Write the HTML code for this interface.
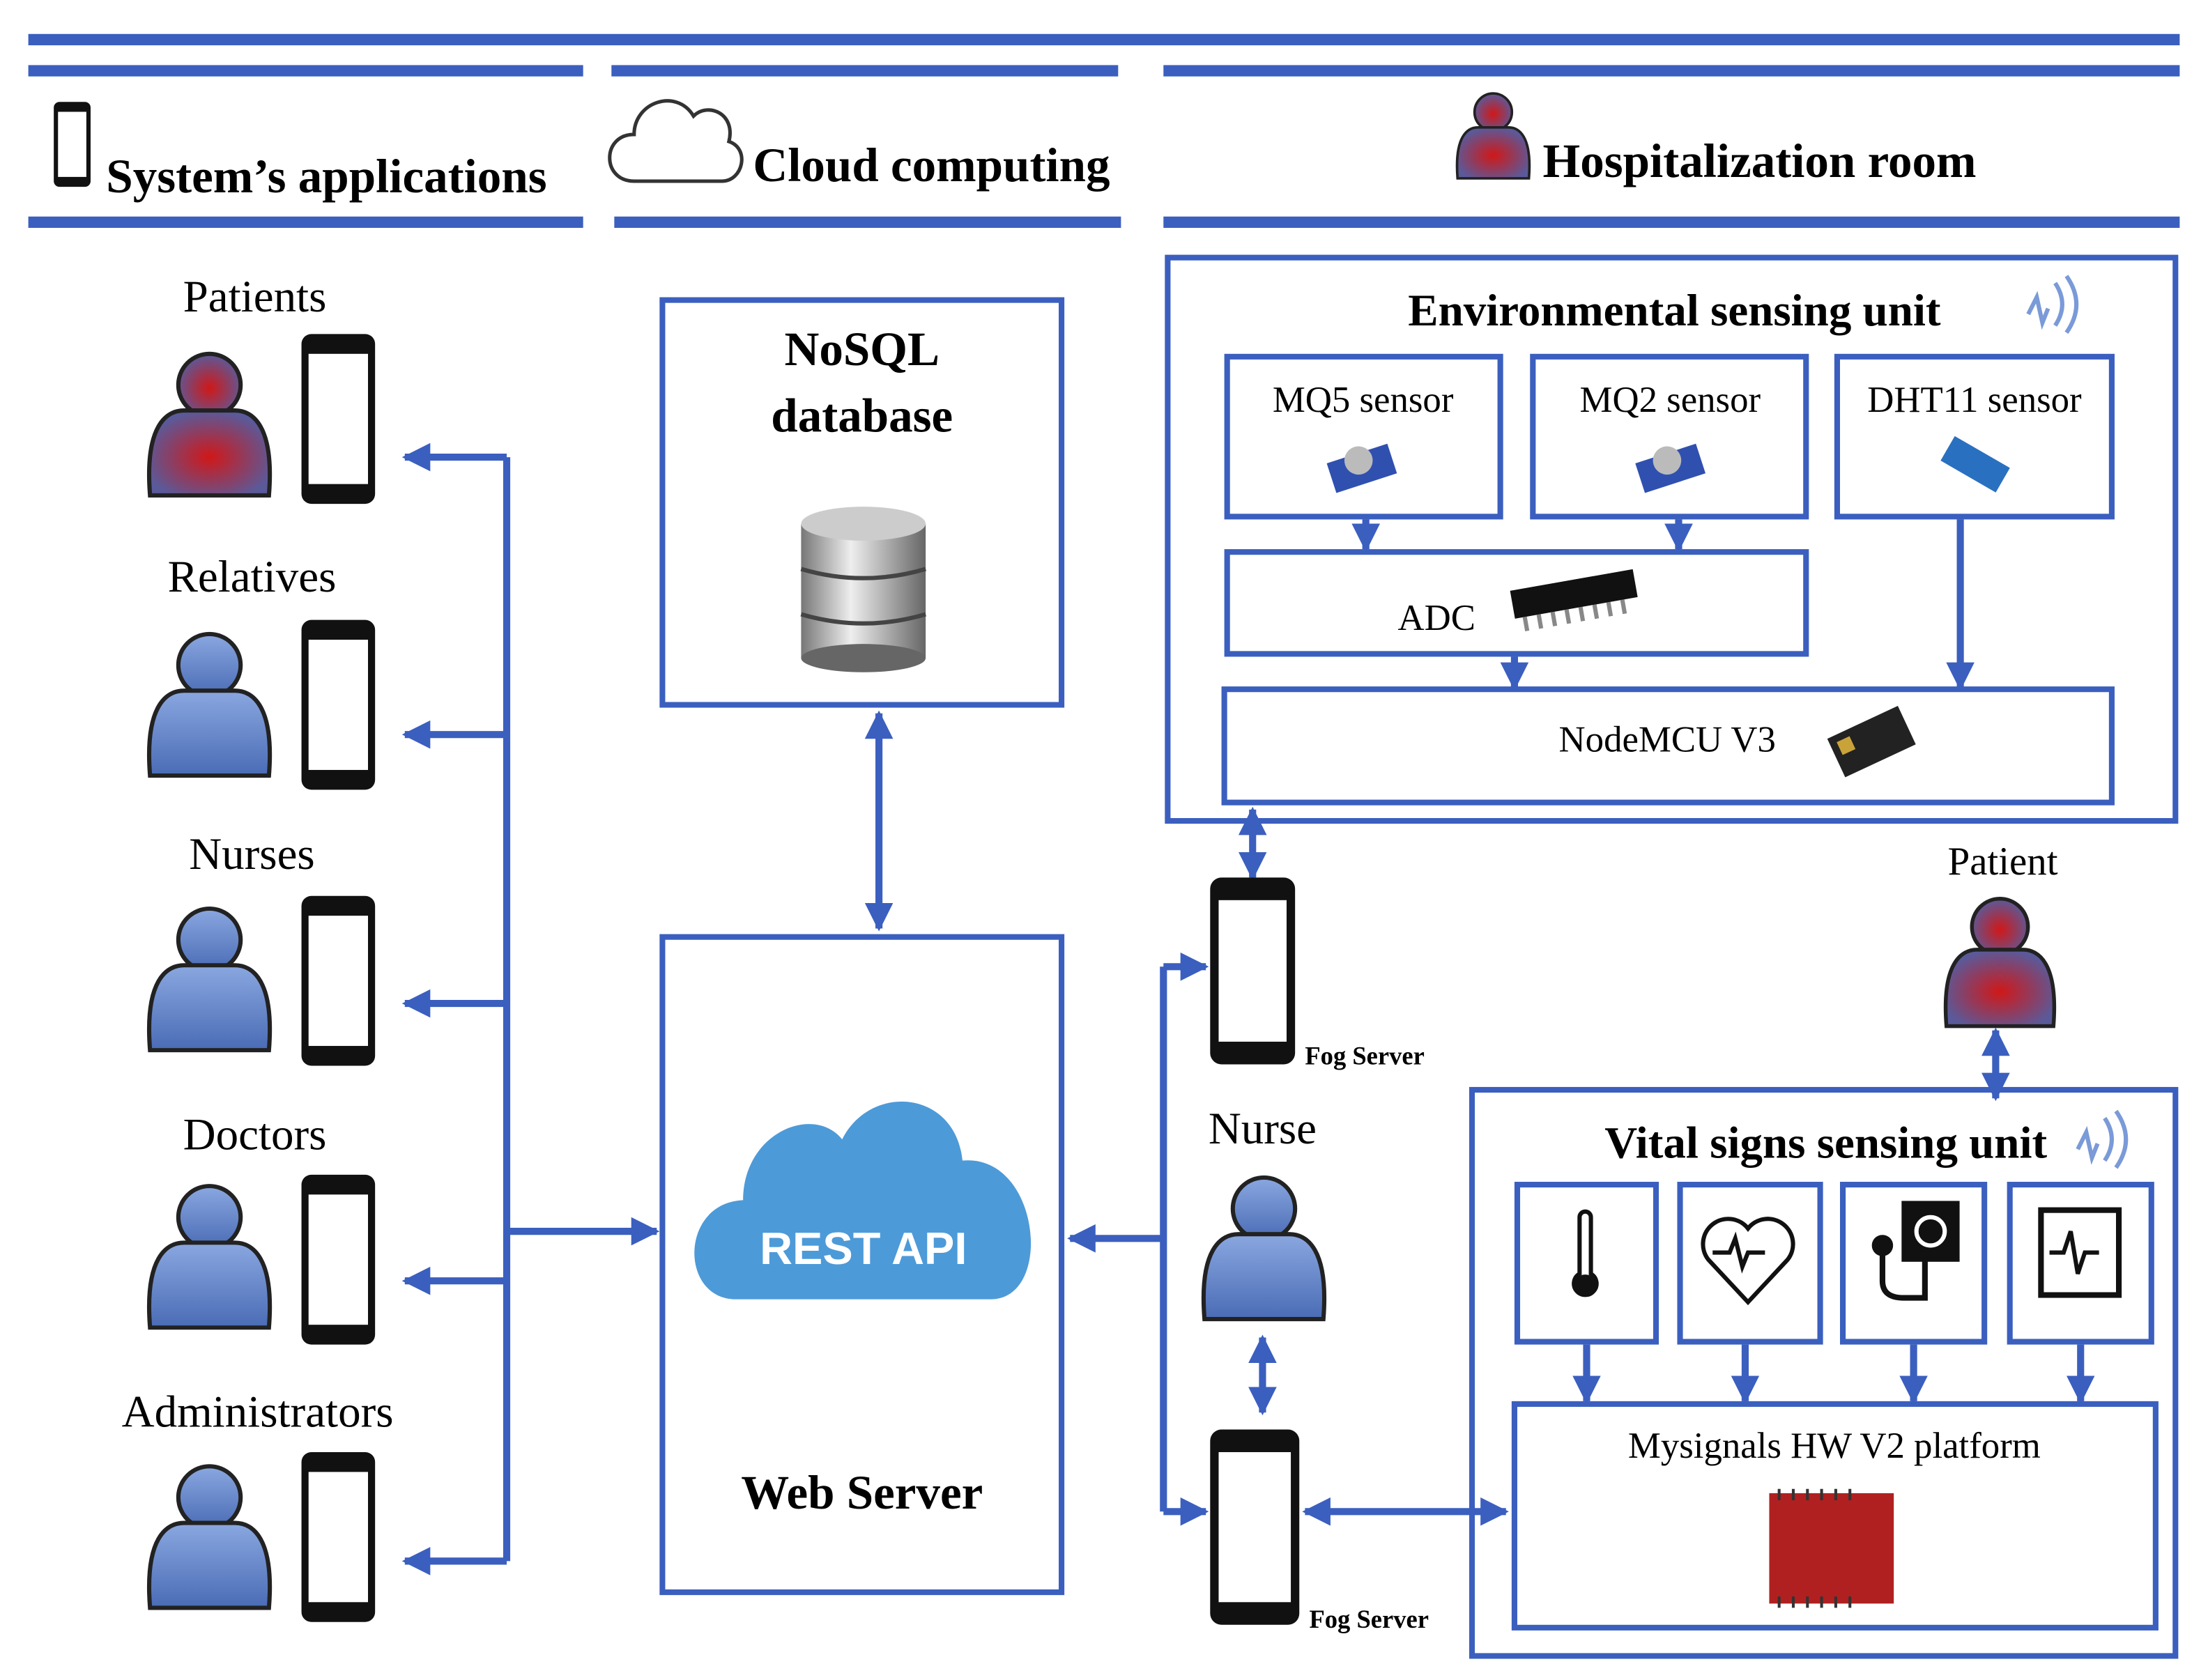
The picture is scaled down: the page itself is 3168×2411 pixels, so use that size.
<!DOCTYPE html>
<html><head><meta charset="utf-8"><style>html,body{margin:0;padding:0;background:#fff;}svg{display:block}</style></head>
<body>
<svg width="3168" height="2411" viewBox="0 0 1560 1187" preserveAspectRatio="none" xmlns="http://www.w3.org/2000/svg" font-family="Liberation Serif, serif">
<defs>
<marker id="ah" viewBox="0 0 10 10" refX="9" refY="5" markerWidth="4" markerHeight="4" orient="auto-start-reverse"><path d="M0,0L10,5L0,10z" fill="#3b5fbf"/></marker>
<radialGradient id="red" cx="50%" cy="55%" r="55%"><stop offset="0" stop-color="#d01818"/><stop offset="1" stop-color="#5a5a9a"/></radialGradient>
<linearGradient id="blu" x1="0" y1="0" x2="0" y2="1"><stop offset="0" stop-color="#8aa7e0"/><stop offset="1" stop-color="#4a6cb5"/></linearGradient>
<linearGradient id="cyl" x1="0" x2="1"><stop offset="0" stop-color="#777"/><stop offset=".4" stop-color="#eee"/><stop offset="1" stop-color="#666"/></linearGradient>
<g id="person"><circle cx="0" cy="-28" r="22" stroke="#222" stroke-width="3"/><path d="M-42,50 C-46,0 -30,-10 -18,-10 L18,-10 C30,-10 46,0 42,50 Z" stroke="#222" stroke-width="3"/></g>
<g id="phone"><rect x="0" y="0" width="52" height="120" rx="7" fill="#111"/><rect x="5" y="14" width="42" height="92" fill="#fff"/></g>
</defs>
<g fill="#3b5fbf">
<rect x="20" y="24" width="1520" height="8"/>
<rect x="20" y="46" width="392" height="8"/><rect x="432" y="46" width="358" height="8"/><rect x="822" y="46" width="718" height="8"/>
<rect x="20" y="153" width="392" height="8"/><rect x="434" y="153" width="358" height="8"/><rect x="822" y="153" width="718" height="8"/>
</g>
<!-- headers -->
<rect x="38" y="72" width="26" height="60" rx="4" fill="#111"/><rect x="41" y="79" width="20" height="46" fill="#fff"/>
<text x="75" y="136" font-size="34" font-weight="bold">System’s applications</text>
<path d="M448,128 C425,128 425,95 448,95 C448,72 478,62 490,82 C500,72 520,80 515,100 C530,105 525,128 510,128 Z" fill="none" stroke="#333" stroke-width="2.5"/>
<text x="532" y="128" font-size="34" font-weight="bold">Cloud computing</text>
<g transform="translate(1055,96) scale(0.6)" fill="url(#red)"><use href="#person"/></g>
<text x="1090" y="125" font-size="34" font-weight="bold">Hospitalization room</text>
<!-- left column -->
<g font-size="32" text-anchor="middle">
<text x="180" y="220">Patients</text><text x="178" y="418">Relatives</text><text x="178" y="614">Nurses</text><text x="180" y="812">Doctors</text><text x="182" y="1008">Administrators</text>
</g>
<g transform="translate(148,300)" fill="url(#red)"><use href="#person"/></g>
<g transform="translate(148,498)" fill="url(#blu)"><use href="#person"/></g>
<g transform="translate(148,692)" fill="url(#blu)"><use href="#person"/></g>
<g transform="translate(148,888)" fill="url(#blu)"><use href="#person"/></g>
<g transform="translate(148,1086)" fill="url(#blu)"><use href="#person"/></g>
<use href="#phone" x="213" y="236"/><use href="#phone" x="213" y="438"/><use href="#phone" x="213" y="633"/><use href="#phone" x="213" y="830"/><use href="#phone" x="213" y="1026"/>
<g stroke="#3b5fbf" stroke-width="5" fill="none">
<path d="M358,323 V1103"/>
<path d="M358,323 H286" marker-end="url(#ah)"/><path d="M358,519 H286" marker-end="url(#ah)"/><path d="M358,709 H286" marker-end="url(#ah)"/><path d="M358,905 H286" marker-end="url(#ah)"/><path d="M358,1103 H286" marker-end="url(#ah)"/>
<path d="M358,870 H464" marker-end="url(#ah)"/>
<path d="M621,504 V656" marker-start="url(#ah)" marker-end="url(#ah)"/>
<path d="M822,875 H756" marker-end="url(#ah)"/>
<path d="M822,683 V1068"/><path d="M822,683 H852" marker-end="url(#ah)"/><path d="M822,1068 H852" marker-end="url(#ah)"/>
<path d="M885,572 V620" marker-start="url(#ah)" marker-end="url(#ah)"/>
<path d="M892,945 V998" marker-start="url(#ah)" marker-end="url(#ah)"/>
<path d="M922,1068 H1064" marker-start="url(#ah)" marker-end="url(#ah)"/>
<path d="M1410,728 V776" marker-start="url(#ah)" marker-end="url(#ah)"/>
<path d="M965,367 V388" marker-end="url(#ah)"/><path d="M1186,367 V388" marker-end="url(#ah)"/><path d="M1070,464 V486" marker-end="url(#ah)"/><path d="M1385,367 V486" marker-end="url(#ah)"/>
<path d="M1121,950 V990" marker-end="url(#ah)"/><path d="M1233,950 V990" marker-end="url(#ah)"/><path d="M1352,950 V990" marker-end="url(#ah)"/><path d="M1470,950 V990" marker-end="url(#ah)"/>
</g>
<!-- boxes -->
<g fill="none" stroke="#3b5fbf" stroke-width="4">
<rect x="468" y="212" width="282" height="286"/>
<rect x="468" y="662" width="282" height="463"/>
<rect x="825" y="182" width="712" height="398"/>
<rect x="867" y="252" width="193" height="113"/><rect x="1083" y="252" width="193" height="113"/><rect x="1298" y="252" width="194" height="113"/>
<rect x="867" y="390" width="409" height="72"/>
<rect x="865" y="487" width="627" height="80"/>
<rect x="1040" y="770" width="497" height="400"/>
<rect x="1072" y="837" width="98" height="111"/><rect x="1187" y="837" width="99" height="111"/><rect x="1302" y="837" width="100" height="111"/><rect x="1420" y="837" width="100" height="111"/>
<rect x="1070" y="992" width="453" height="158"/>
</g>
<g font-weight="bold" font-size="34" text-anchor="middle"><text x="609" y="258">NoSQL</text><text x="609" y="305">database</text><text x="609" y="1066">Web Server</text></g>
<!-- db -->
<g><rect x="566" y="370" width="88" height="95" fill="url(#cyl)"/><ellipse cx="610" cy="465" rx="44" ry="10" fill="#666"/><ellipse cx="610" cy="370" rx="44" ry="12" fill="#ccc"/><path d="M566,402 Q610,415 654,402 M566,434 Q610,447 654,434" stroke="#444" stroke-width="3" fill="none"/></g>
<!-- rest cloud -->
<path d="M520,918 C480,918 480,850 525,848 C525,800 575,780 595,805 C615,765 675,770 680,820 C735,815 745,918 700,918 Z" fill="#4d9ad8"/>
<text x="610" y="893" font-family="Liberation Sans, sans-serif" font-weight="bold" font-size="32" fill="#fff" text-anchor="middle">REST API</text>
<!-- env -->
<text x="1183" y="230" font-size="32" font-weight="bold" text-anchor="middle">Environmental sensing unit</text>
<path d="M1433,222 l6,-12 4,18 4,-10 M1452,200 q10,15 0,30 M1460,195 q14,20 0,40" stroke="#7a9ad8" stroke-width="3" fill="none"/>
<g font-size="26" text-anchor="middle"><text x="963" y="291">MQ5 sensor</text><text x="1180" y="291">MQ2 sensor</text><text x="1395" y="291">DHT11 sensor</text>
<text x="1015" y="445">ADC</text><text x="1178" y="531">NodeMCU V3</text><text x="1296" y="1030">Mysignals HW V2 platform</text></g>
<g transform="rotate(-18 962 332)"><rect x="940" y="320" width="45" height="22" fill="#3050b0"/><circle cx="962" cy="325" r="10" fill="#bbb"/></g>
<g transform="rotate(-18 1180 332)"><rect x="1158" y="320" width="45" height="22" fill="#3050b0"/><circle cx="1180" cy="325" r="10" fill="#bbb"/></g>
<g transform="rotate(30 1395 330)"><rect x="1372" y="318" width="45" height="20" fill="#2a70c0"/></g>
<g transform="rotate(-10 1110 420)"><rect x="1068" y="410" width="88" height="20" fill="#111"/><path d="M1075,430 v10 M1085,430 v10 M1095,430 v10 M1105,430 v10 M1115,430 v10 M1125,430 v10 M1135,430 v10 M1145,430 v10" stroke="#888" stroke-width="3"/></g>
<g transform="rotate(-25 1320 525)"><rect x="1295" y="510" width="55" height="30" fill="#222"/><rect x="1300" y="515" width="10" height="10" fill="#c9a23a"/></g>
<!-- fog & nurse -->
<rect x="855" y="620" width="60" height="132" rx="8" fill="#111"/><rect x="861" y="636" width="48" height="100" fill="#fff"/>
<text x="922" y="752" font-size="18" font-weight="bold">Fog Server</text>
<rect x="855" y="1010" width="63" height="138" rx="8" fill="#111"/><rect x="861" y="1026" width="51" height="106" fill="#fff"/>
<text x="925" y="1150" font-size="18" font-weight="bold">Fog Server</text>
<text x="892" y="808" font-size="32" text-anchor="middle">Nurse</text>
<g transform="translate(893,882) scale(1.0)" fill="url(#blu)"><use href="#person"/></g>
<text x="1415" y="618" font-size="28" text-anchor="middle">Patient</text>
<g transform="translate(1413,680) scale(0.9)" fill="url(#red)"><use href="#person"/></g>
<!-- vital -->
<text x="1290" y="818" font-size="32" font-weight="bold" text-anchor="middle">Vital signs sensing unit</text>
<path d="M1468,812 l6,-12 4,18 4,-10 M1487,790 q10,15 0,30 M1495,785 q14,20 0,40" stroke="#7a9ad8" stroke-width="3" fill="none"/>
<g stroke="#111" fill="none" stroke-width="3">
<path d="M1116,860 v40 a8,8 0 1 0 8,0 v-40 a4,4 0 0 0 -8,0z"/><circle cx="1120" cy="908" r="6" fill="#111"/>
<path d="M1235,920 l-28,-30 a14,14 0 0 1 28,-22 a14,14 0 0 1 28,22 z"/><path d="M1210,885 h12 l4,-10 5,20 4,-10 h12"/>
<rect x="1345" y="850" width="38" height="40" fill="#111"/><circle cx="1364" cy="870" r="10" stroke="#fff"/><path d="M1330,885 v20 q0,12 15,12 h15 v-27" stroke-width="4"/><circle cx="1330" cy="880" r="6" fill="#111"/>
<rect x="1442" y="855" width="55" height="60" stroke-width="4"/><path d="M1448,885 h10 l5,-15 5,30 5,-15 h10"/>
</g>
<rect x="1250" y="1055" width="88" height="78" fill="#b02020"/>
<g stroke="#333" stroke-width="2"><path d="M1257,1052 v8 M1267,1052 v8 M1277,1052 v8 M1287,1052 v8 M1297,1052 v8 M1307,1052 v8 M1257,1128 v8 M1267,1128 v8 M1277,1128 v8 M1287,1128 v8 M1297,1128 v8 M1307,1128 v8"/></g>
</svg>
</body></html>
